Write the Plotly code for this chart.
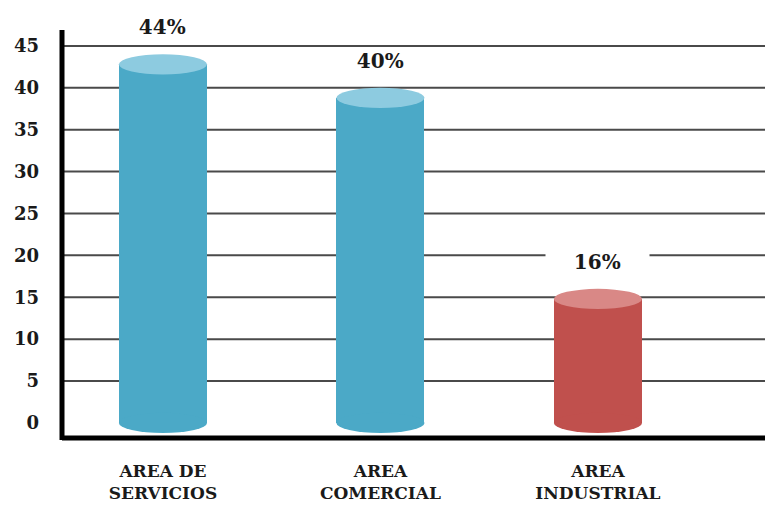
import plotly.graph_objects as go

# Data
categories = ["AREA DE<br>SERVICIOS", "AREA<br>COMERCIAL", "AREA<br>INDUSTRIAL"]
values = [44, 40, 16]
labels = ["44%", "40%", "16%"]
body_colors = ["#4BA9C7", "#4BA9C7", "#C0504D"]
cap_colors = ["#8DCBE0", "#8DCBE0", "#D98886"]
y_ticks = [0, 5, 10, 15, 20, 25, 30, 35, 40, 45]

FONT = "DejaVu Serif"
BAR_W = 0.405      # cylinder width in x units
CAP_H = 2.4        # ellipse height in y units

xs = list(range(len(categories)))

fig = go.Figure()

# cylinder bodies (between the two ellipse centres)
fig.add_trace(go.Bar(
    x=xs,
    y=[v - CAP_H / 2 for v in values],
    base=0,
    width=BAR_W,
    marker=dict(color=body_colors, line=dict(width=0)),
    hoverinfo="skip",
))

shapes = []
# horizontal gridlines (no line at zero)
for t in y_ticks:
    if t == 0:
        continue
    shapes.append(dict(type="line", xref="paper", yref="y", x0=0, x1=1, y0=t, y1=t,
                       line=dict(color="#4a4a4a", width=2), layer="below"))

# ellipses forming the bottom and top of each cylinder
for x, v, bc, cc in zip(xs, values, body_colors, cap_colors):
    shapes.append(dict(type="circle", xref="x", yref="y",
                       x0=x - BAR_W / 2, x1=x + BAR_W / 2,
                       y0=-CAP_H / 2, y1=CAP_H / 2,
                       fillcolor=bc, line=dict(width=0), layer="above"))
    shapes.append(dict(type="circle", xref="x", yref="y",
                       x0=x - BAR_W / 2, x1=x + BAR_W / 2,
                       y0=v - CAP_H, y1=v,
                       fillcolor=cc, line=dict(width=0), layer="above"))

# heavy axis lines
shapes.append(dict(type="line", xref="paper", yref="paper", x0=0, x1=0, y0=-0.005, y1=1,
                   line=dict(color="black", width=5)))
shapes.append(dict(type="line", xref="paper", yref="paper", x0=0, x1=1, y0=0, y1=0,
                   line=dict(color="black", width=5)))

annotations = []
pad = "\u00a0" * 4
for x, v, lab in zip(xs, values, labels):
    annotations.append(dict(
        x=x, y=v, xref="x", yref="y",
        text=pad + lab + pad,
        showarrow=False, yanchor="middle", yshift=27,
        bgcolor="white", borderpad=0,
        font=dict(family=FONT, size=20, color="#1a1a1a", weight="bold"),
    ))

fig.update_layout(
    width=765, height=512,
    margin=dict(l=62, r=0, t=30, b=74),
    paper_bgcolor="white", plot_bgcolor="white",
    showlegend=False,
    shapes=shapes,
    annotations=annotations,
    bargap=0,
    xaxis=dict(
        range=[-0.464, 2.768],
        tickmode="array", tickvals=xs, ticktext=categories,
        showgrid=False, zeroline=False, showline=False,
        ticks="", ticklabelstandoff=21,
        tickfont=dict(family=FONT, size=17, color="#1a1a1a", weight="bold"),
        fixedrange=True,
    ),
    yaxis=dict(
        range=[-1.8, 46.9],
        tickmode="array", tickvals=y_ticks,
        showgrid=False, zeroline=False, showline=False,
        ticks="", ticklabelstandoff=22,
        tickfont=dict(family=FONT, size=18, color="#1a1a1a", weight="bold"),
        fixedrange=True,
    ),
)

fig.write_html("out.html")
